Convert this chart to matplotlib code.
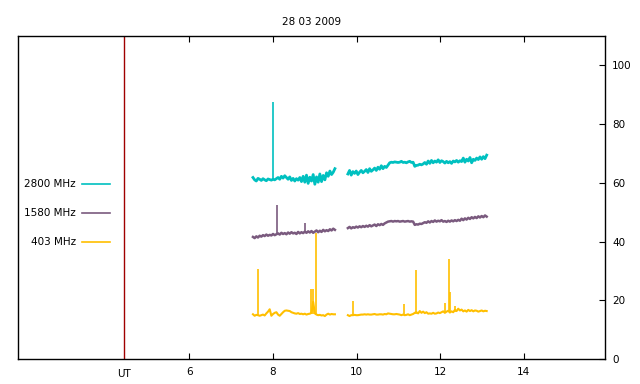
import numpy as np
import matplotlib
matplotlib.use("Agg")
import matplotlib.pyplot as plt

title = "28 03 2009"
x_ticks = [6, 8, 10, 12, 14]
y_ticks = [0, 20, 40, 60, 80, 100]
ut_time = 4.44
labels = ["2800 MHz", "1580 MHz", "403 MHz"]
colors = ["#00c0c0", "#7a5a7e", "#ffbf00"]

seg1_start, seg_step = 7.52, 0.04
seg2_start = 9.79

f2800_a = [61.8, 61.0, 60.6, 61.5, 61.2, 60.8, 61.4, 61.0, 60.7, 61.3,
           61.1, 60.9, 61.2, 61.0, 61.4, 61.8, 61.2, 62.2, 61.6, 62.4,
           61.8, 61.2, 62.0, 60.8, 61.5, 60.6, 61.4, 60.9, 61.8, 60.4,
           62.2, 60.2, 62.6, 59.8, 61.9, 60.6, 62.8, 59.5, 62.0, 60.2,
           63.0, 60.4, 62.5, 61.0, 63.4, 62.2, 64.0, 62.8, 63.6, 64.8]
f2800_b = [63.0, 64.2, 62.6, 63.8, 63.2, 64.0, 62.8, 63.6, 64.2, 63.4,
           63.9, 64.5, 63.5, 64.8, 63.9, 64.4, 65.0, 64.2, 65.3, 64.6,
           65.8, 64.8, 65.6, 65.2, 66.0, 66.8, 67.0, 66.9, 67.1, 67.0,
           66.9, 67.0, 67.3, 66.9, 67.0, 66.8, 67.1, 67.3, 66.9, 67.0,
           65.6, 65.9, 66.0, 66.3, 66.1, 66.4, 66.9, 66.3, 67.4, 66.6,
           67.6, 66.8, 67.4, 67.0, 67.8, 66.9, 67.5, 67.2, 66.7, 67.3,
           66.8, 67.2, 66.6, 67.4, 67.1, 67.6, 67.0, 67.5, 67.2, 68.4,
           67.0, 68.0, 67.4, 68.6, 66.8, 68.0, 67.6, 68.4, 67.9, 68.8,
           68.0, 68.9, 68.2, 69.4]
f1580_a = [41.6, 41.2, 41.8, 41.4, 42.0, 41.7, 42.2, 41.9, 42.4, 42.0,
           42.3, 42.1, 42.6, 42.2, 42.5, 42.8, 42.4, 43.0, 42.6, 42.9,
           42.5, 43.1, 42.7, 43.2, 42.8, 43.0, 42.6, 43.3, 42.8, 43.2,
           42.9, 43.4, 43.0, 43.5, 43.1, 43.6, 43.0, 43.4, 43.8, 43.2,
           43.7, 43.3, 44.0, 43.5, 43.9, 43.6, 44.2, 43.8, 44.4, 44.0]
f1580_b = [44.6, 45.0, 44.5, 44.9, 44.7, 45.1, 44.8, 45.2, 44.9, 45.3,
           45.0, 45.4, 45.1, 45.6, 45.2, 45.5, 45.8, 45.3, 45.9, 45.6,
           46.0, 45.7, 46.2, 46.5, 46.8, 46.9, 47.0, 46.8, 47.0, 46.9,
           47.0, 46.8, 46.9, 47.0, 46.8, 46.9, 47.0, 46.8, 46.9, 46.8,
           45.7, 45.9, 45.8, 46.1, 46.0, 46.3, 46.6, 46.4, 46.9, 46.5,
           47.0, 46.7, 47.2, 46.8, 47.1, 46.9, 47.3, 46.8, 47.0, 46.7,
           47.1, 46.8, 47.2, 46.9, 47.3, 47.0, 47.4, 47.1, 47.8, 47.3,
           47.9, 47.5, 48.1, 47.7, 48.3, 47.9, 48.4, 48.0, 48.6, 48.2,
           48.7, 48.3, 48.9, 48.5]
f403_a = [15.3, 14.8, 15.1, 15.0, 14.8, 15.0, 15.2, 14.9, 15.6, 16.2,
          17.0, 14.8, 15.4, 15.8, 16.0, 15.2, 14.8, 15.4, 16.0, 16.5,
          16.6, 16.5, 16.4, 16.0, 15.8, 15.6, 15.5, 15.7, 15.4, 15.5,
          15.3, 15.5, 15.2, 15.4, 15.5, 15.8, 19.5, 15.6, 15.2, 15.0,
          15.1, 14.9, 15.0, 14.7, 15.2, 15.5, 15.2, 15.4, 15.3, 15.3]
f403_b = [15.0, 14.7, 15.0, 15.0, 15.1, 15.0, 15.0, 15.1, 15.2, 15.2,
          15.3, 15.2, 15.3, 15.2, 15.2, 15.3, 15.4, 15.2, 15.2, 15.3,
          15.3, 15.2, 15.4, 15.3, 15.6, 15.5, 15.4, 15.3, 15.3, 15.4,
          15.3, 15.2, 15.0, 15.2, 15.0, 15.1, 15.3, 15.0, 15.2, 15.4,
          15.8, 16.0, 15.6, 16.4, 15.8, 16.2, 15.7, 16.0, 15.5, 15.6,
          15.5, 15.8, 15.5, 15.6, 15.9, 15.7, 16.0, 16.3, 15.8, 16.2,
          16.5, 15.9, 16.3, 16.0, 16.8, 16.4, 17.2, 16.6, 16.9, 16.3,
          16.6, 16.2, 16.8, 16.4, 16.7, 16.3, 16.6, 16.5, 16.2, 16.4,
          16.6, 16.3, 16.5, 16.4]

# spikes: (time, base, peak)
spikes_2800 = [(8.01, 61.2, 87.5)]
spikes_1580 = [(8.09, 42.2, 52.6), (8.76, 43.0, 46.5)]
spikes_403 = [(7.65, 15.0, 30.8), (8.91, 15.5, 24.0), (8.96, 15.5, 24.0),
              (9.03, 15.2, 43.0), (9.91, 15.0, 19.7), (11.13, 15.2, 18.7),
              (11.42, 15.4, 30.5), (12.12, 15.8, 19.0), (12.22, 16.0, 34.0),
              (12.24, 16.0, 23.0), (12.35, 16.2, 18.0)]

series = [(f2800_a, f2800_b, spikes_2800), (f1580_a, f1580_b, spikes_1580),
          (f403_a, f403_b, spikes_403)]
line_w = [2.0, 1.8, 1.5]

plt.rcParams['font.family'] = ['DejaVu Sans']
fig = plt.figure(figsize=(6.4, 3.84), dpi=100)
ax = fig.add_axes([18/640, 1-359.3/384, 587/640, 323.6/384])

for (a, b, sp), c, lw in zip(series, colors, line_w):
    ta = seg1_start + seg_step*np.arange(len(a))
    tb = seg2_start + seg_step*np.arange(len(b))
    ax.plot(ta, a, color=c, lw=lw)
    ax.plot(tb, b, color=c, lw=lw)
    ax.vlines([s[0] for s in sp], [s[1] for s in sp], [s[2] for s in sp],
              color=c, lw=1.2)

ax.axvline(ut_time, color="#a00000", lw=1)
ax.set_xlim(1.9, 15.94)
ax.set_ylim(0, 110)

ax.set_xticks(x_ticks)
ax.set_xticklabels([str(t) for t in x_ticks], fontsize=7.5)
ax.tick_params(axis='x', direction='in', top=True, bottom=True, length=4,
               pad=5.5, width=0.8)
ax.yaxis.tick_right()
ax.set_yticks(y_ticks)
ax.set_yticklabels([str(t) for t in y_ticks], fontsize=7.5)
ax.tick_params(axis='y', direction='in', left=False, right=True, length=4,
               pad=5, width=0.8)
for s in ax.spines.values():
    s.set_linewidth(1)

ax.text(ut_time, -3.4, "UT", ha='center', va='top', fontsize=7.5)
ax.set_title(title, fontsize=7.5, pad=8)

leg_y = [0.542, 0.452, 0.362]
for lab, c, yy in zip(labels, colors, leg_y):
    ax.text(0.099, yy, lab, transform=ax.transAxes, ha='right', va='center',
            fontsize=7.5)
    ax.plot([0.109, 0.157], [yy, yy], transform=ax.transAxes, color=c, lw=1.2)

fig.savefig("out.png", dpi=100)
